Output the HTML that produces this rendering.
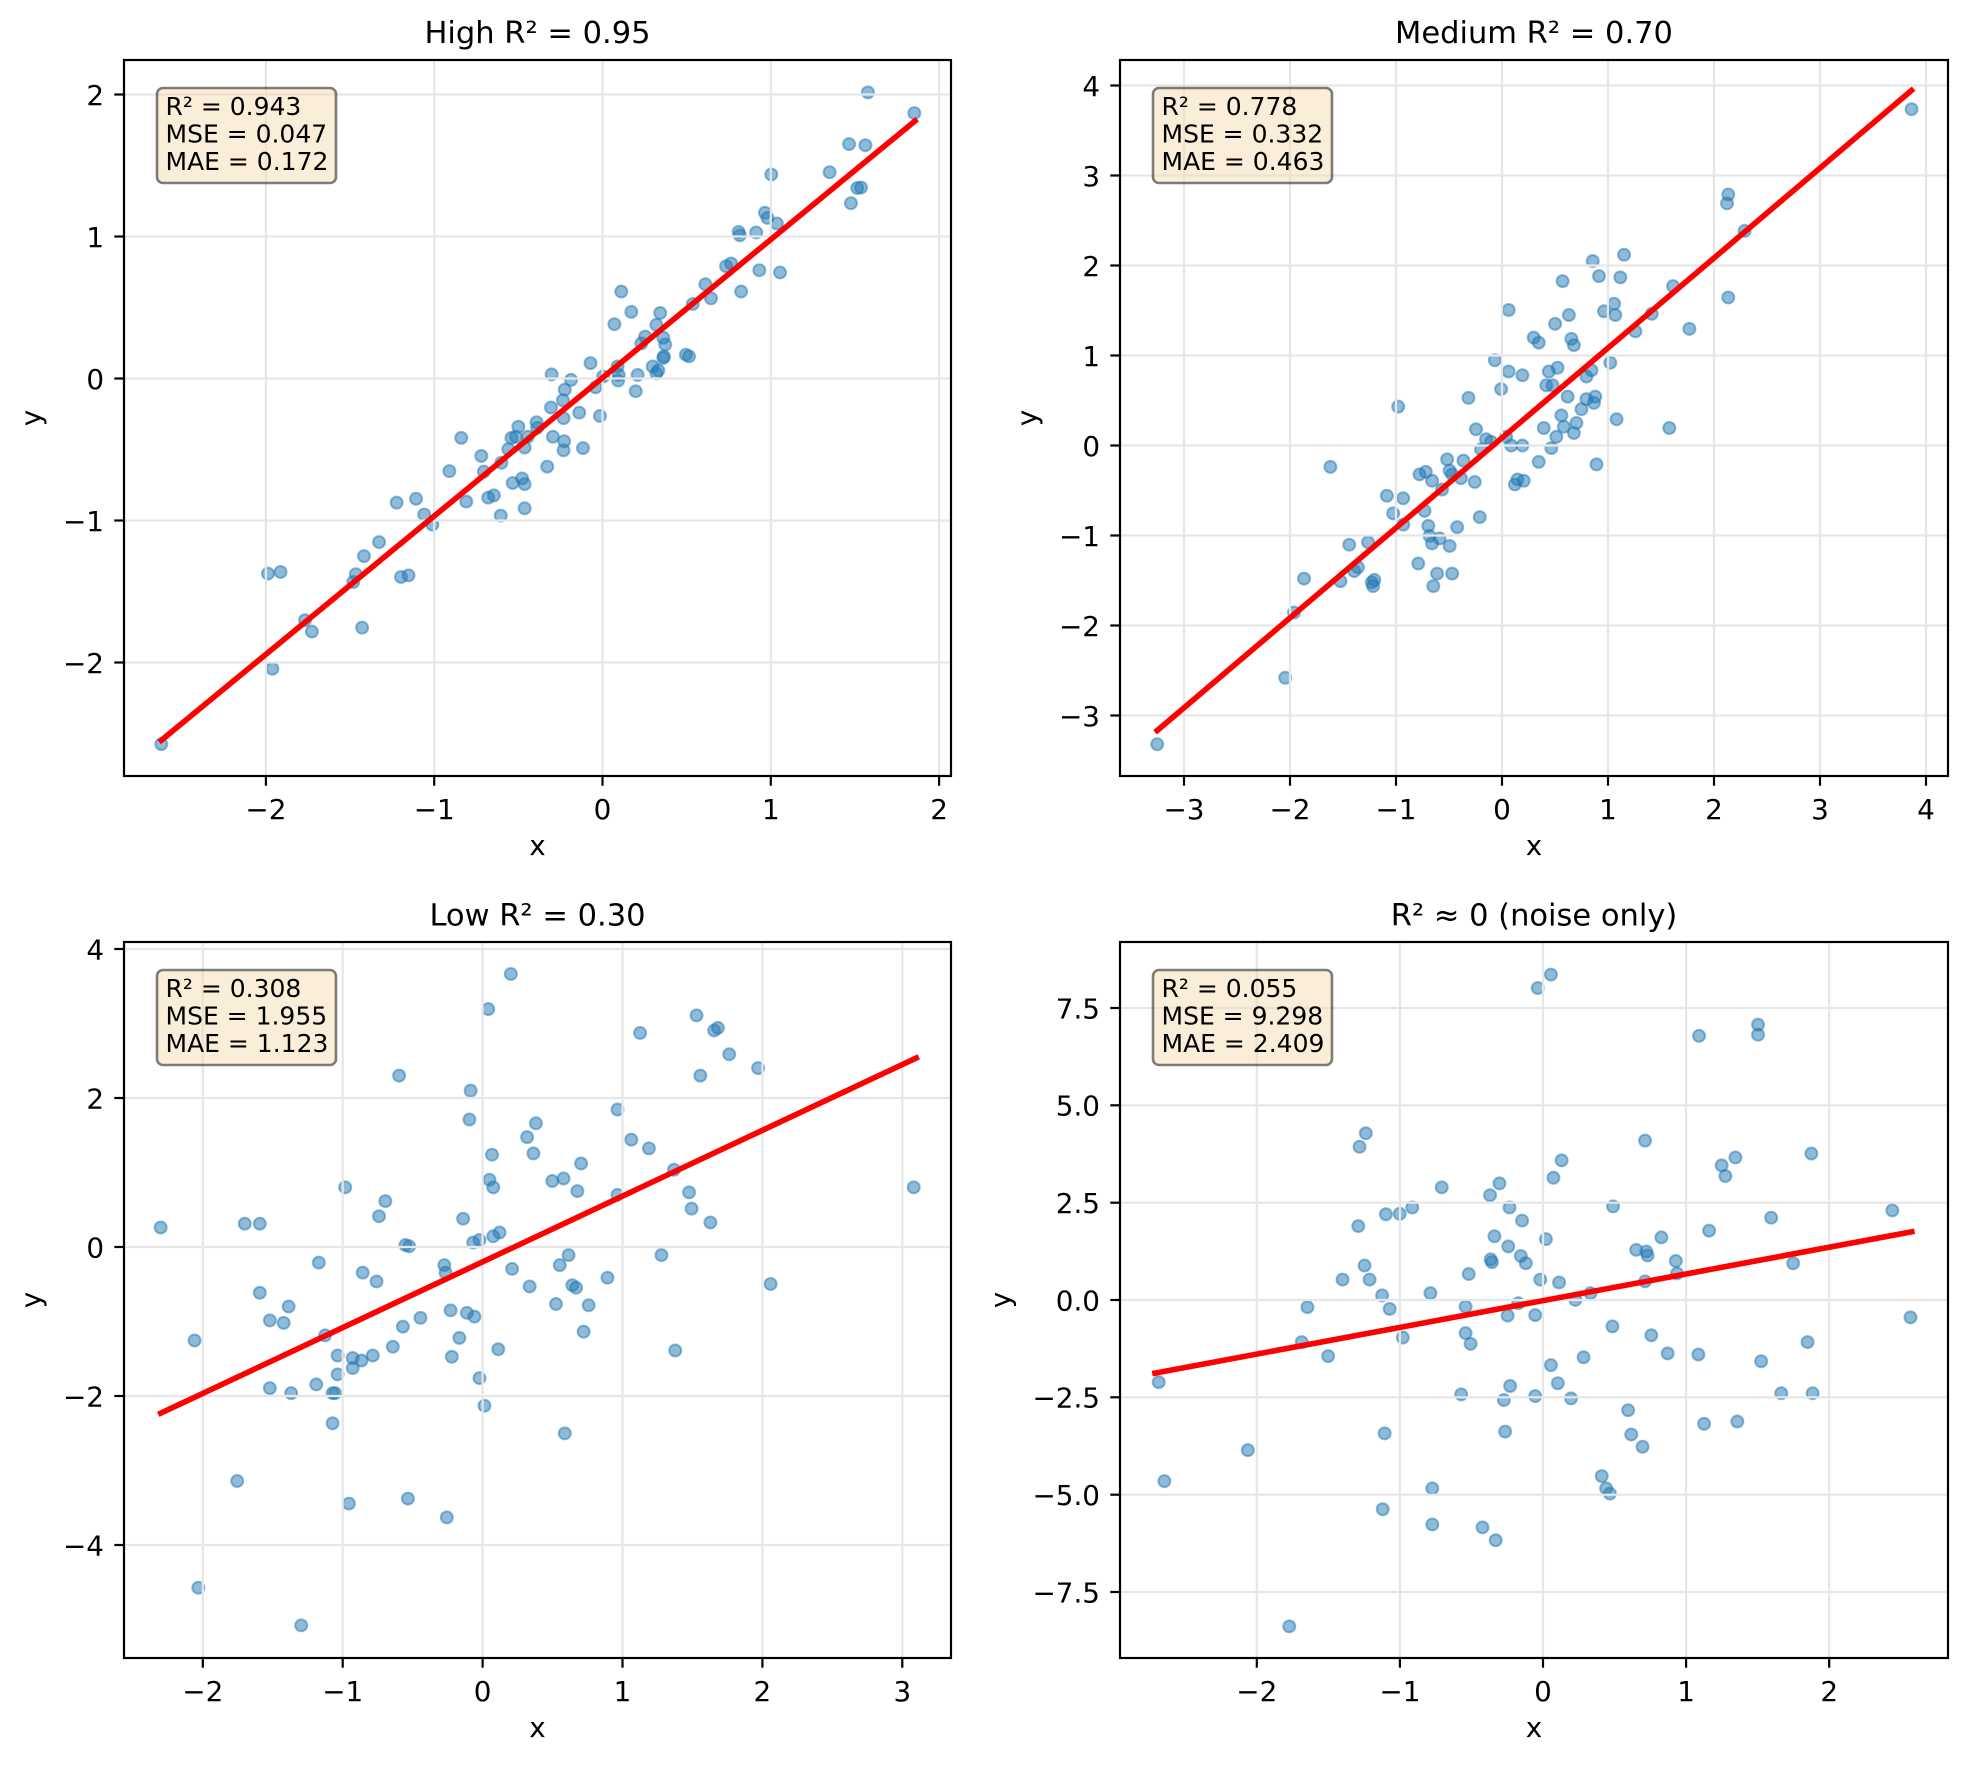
<!DOCTYPE html>
<html><head><meta charset="utf-8"><style>
html,body{margin:0;padding:0;background:#fff}
svg{display:block}
text{font-family:"DejaVu Sans","Liberation Sans",sans-serif;fill:#000}
.tk{font-size:27.8px}
.ti{font-size:30.5px}
.bx{font-size:25px}
.g{stroke:#e6e6e6;stroke-width:2.2}
.sp{fill:none;stroke:#000;stroke-width:2.2}
.t{stroke:#000;stroke-width:2.2}
.p circle{fill:#1f77b4;fill-opacity:.5;stroke:#1f77b4;stroke-opacity:.5;stroke-width:1.6}
.rl{stroke:#ff0000;stroke-width:5.6;stroke-linecap:square}
.box{fill:#f5deb3;fill-opacity:.5;stroke:#000;stroke-opacity:.5;stroke-width:2.6}
</style></head><body>
<svg width="1968" height="1766" viewBox="0 0 1968 1766" xmlns="http://www.w3.org/2000/svg">
<rect width="1968" height="1766" fill="#fff"/>

<!-- ============ PANEL 1 ============ -->
<g class="p" transform="scale(1.2551)">
<circle cx="128.5" cy="592.9" r="4.78"/><circle cx="213.5" cy="457.0" r="4.78"/><circle cx="223.5" cy="455.7" r="4.78"/><circle cx="217" cy="532.8" r="4.78"/><circle cx="243" cy="494.2" r="4.78"/><circle cx="248.5" cy="503.2" r="4.78"/><circle cx="281.5" cy="463.7" r="4.78"/><circle cx="283.5" cy="457.5" r="4.78"/><circle cx="290" cy="443.1" r="4.78"/><circle cx="288.5" cy="500.1" r="4.78"/><circle cx="302" cy="431.9" r="4.78"/><circle cx="316" cy="400.5" r="4.78"/><circle cx="319.5" cy="459.7" r="4.78"/><circle cx="325.5" cy="458.4" r="4.78"/><circle cx="331.5" cy="397.4" r="4.78"/><circle cx="338" cy="409.9" r="4.78"/><circle cx="344.5" cy="418.0" r="4.78"/><circle cx="358" cy="375.4" r="4.78"/><circle cx="367.5" cy="348.9" r="4.78"/><circle cx="371.5" cy="399.6" r="4.78"/><circle cx="383.5" cy="363.3" r="4.78"/><circle cx="385.5" cy="375.8" r="4.78"/><circle cx="389" cy="396.5" r="4.78"/><circle cx="393.5" cy="394.7" r="4.78"/><circle cx="399.5" cy="368.7" r="4.78"/><circle cx="399" cy="410.8" r="4.78"/><circle cx="405" cy="357.9" r="4.78"/><circle cx="407.5" cy="348.9" r="4.78"/><circle cx="411" cy="348.0" r="4.78"/><circle cx="413" cy="340.0" r="4.78"/><circle cx="408.5" cy="384.8" r="4.78"/><circle cx="416" cy="381.2" r="4.78"/><circle cx="418" cy="385.7" r="4.78"/><circle cx="418" cy="405.0" r="4.78"/><circle cx="418" cy="356.6" r="4.78"/><circle cx="420.5" cy="348.0" r="4.78"/><circle cx="427.5" cy="336.4" r="4.78"/><circle cx="428" cy="340.9" r="4.78"/><circle cx="436" cy="371.8" r="4.78"/><circle cx="439" cy="324.7" r="4.78"/><circle cx="439.5" cy="298.3" r="4.78"/><circle cx="440.5" cy="348.0" r="4.78"/><circle cx="449" cy="333.2" r="4.78"/><circle cx="450" cy="310.4" r="4.78"/><circle cx="448.5" cy="318.9" r="4.78"/><circle cx="449.5" cy="351.6" r="4.78"/><circle cx="449" cy="358.8" r="4.78"/><circle cx="455" cy="302.7" r="4.78"/><circle cx="461.5" cy="328.8" r="4.78"/><circle cx="464.5" cy="357.0" r="4.78"/><circle cx="470.5" cy="289.3" r="4.78"/><circle cx="474.5" cy="308.6" r="4.78"/><circle cx="478" cy="331.4" r="4.78"/><circle cx="480.5" cy="300.0" r="4.78"/><circle cx="489.5" cy="258.3" r="4.78"/><circle cx="492" cy="292.0" r="4.78"/><circle cx="493" cy="298.7" r="4.78"/><circle cx="492.5" cy="303.2" r="4.78"/><circle cx="495" cy="232.3" r="4.78"/><circle cx="503" cy="248.5" r="4.78"/><circle cx="506.5" cy="311.7" r="4.78"/><circle cx="508" cy="298.7" r="4.78"/><circle cx="511" cy="273.6" r="4.78"/><circle cx="514" cy="268.2" r="4.78"/><circle cx="520" cy="292.0" r="4.78"/><circle cx="523" cy="258.8" r="4.78"/><circle cx="523" cy="297.4" r="4.78"/><circle cx="524.5" cy="295.1" r="4.78"/><circle cx="526" cy="249.4" r="4.78"/><circle cx="528.5" cy="269.1" r="4.78"/><circle cx="528.5" cy="285.2" r="4.78"/><circle cx="530" cy="274.5" r="4.78"/><circle cx="529" cy="283.9" r="4.78"/><circle cx="546.5" cy="282.6" r="4.78"/><circle cx="549" cy="283.9" r="4.78"/><circle cx="552" cy="242.2" r="4.78"/><circle cx="562" cy="226.5" r="4.78"/><circle cx="566.5" cy="237.7" r="4.78"/><circle cx="578.5" cy="212.1" r="4.78"/><circle cx="582.5" cy="209.9" r="4.78"/><circle cx="588.5" cy="184.8" r="4.78"/><circle cx="589.5" cy="187.5" r="4.78"/><circle cx="590.5" cy="232.3" r="4.78"/><circle cx="602.5" cy="185.2" r="4.78"/><circle cx="605" cy="215.3" r="4.78"/><circle cx="609.5" cy="169.5" r="4.78"/><circle cx="611.5" cy="173.6" r="4.78"/><circle cx="614.5" cy="139.0" r="4.78"/><circle cx="619" cy="178.1" r="4.78"/><circle cx="621.5" cy="217.1" r="4.78"/><circle cx="661" cy="137.2" r="4.78"/><circle cx="676.5" cy="114.8" r="4.78"/><circle cx="678" cy="161.9" r="4.78"/><circle cx="683" cy="149.8" r="4.78"/><circle cx="686" cy="149.4" r="4.78"/><circle cx="689.5" cy="115.7" r="4.78"/><circle cx="691.5" cy="73.6" r="4.78"/><circle cx="728.5" cy="90.1" r="4.78"/>
</g>
<g class="g">
<line x1="265.9" y1="60" x2="265.9" y2="776"/><line x1="434.2" y1="60" x2="434.2" y2="776"/><line x1="602.5" y1="60" x2="602.5" y2="776"/><line x1="770.8" y1="60" x2="770.8" y2="776"/><line x1="939.1" y1="60" x2="939.1" y2="776"/>
<line x1="124" y1="662.5" x2="951" y2="662.5"/><line x1="124" y1="520.5" x2="951" y2="520.5"/><line x1="124" y1="378.5" x2="951" y2="378.5"/><line x1="124" y1="236.5" x2="951" y2="236.5"/><line x1="124" y1="94.5" x2="951" y2="94.5"/>
</g>
<line class="rl" x1="161.3" y1="740.3" x2="915.0" y2="121.0"/>
<rect class="sp" x="124" y="60" width="827" height="716"/>
<g class="t">
<line x1="265.9" y1="776" x2="265.9" y2="785.7"/><line x1="434.2" y1="776" x2="434.2" y2="785.7"/><line x1="602.5" y1="776" x2="602.5" y2="785.7"/><line x1="770.8" y1="776" x2="770.8" y2="785.7"/><line x1="939.1" y1="776" x2="939.1" y2="785.7"/>
<line x1="124" y1="662.5" x2="114.3" y2="662.5"/><line x1="124" y1="520.5" x2="114.3" y2="520.5"/><line x1="124" y1="378.5" x2="114.3" y2="378.5"/><line x1="124" y1="236.5" x2="114.3" y2="236.5"/><line x1="124" y1="94.5" x2="114.3" y2="94.5"/>
</g>
<g class="tk" text-anchor="middle">
<text x="265.9" y="819">−2</text><text x="434.2" y="819">−1</text><text x="602.5" y="819">0</text><text x="770.8" y="819">1</text><text x="939.1" y="819">2</text>
</g>
<g class="tk" text-anchor="end">
<text x="104" y="672.8">−2</text><text x="104" y="530.8">−1</text><text x="104" y="388.8">0</text><text x="104" y="246.8">1</text><text x="104" y="104.8">2</text>
</g>
<text class="ti" x="537.5" y="43" text-anchor="middle">High R² = 0.95</text>
<text class="tk" x="537.5" y="855" text-anchor="middle">x</text>
<text class="tk" transform="translate(40.5,418) rotate(-90)" text-anchor="middle">y</text>
<rect class="box" x="157" y="88" width="179" height="95" rx="6"/>
<g class="bx"><text x="165.5" y="115">R² = 0.943</text><text x="165.5" y="142.5">MSE = 0.047</text><text x="165.5" y="170">MAE = 0.172</text></g>

<!-- ============ PANEL 2 ============ -->
<g class="p" transform="scale(1.2551)">
<circle cx="922" cy="593" r="4.78"/><circle cx="1024" cy="540" r="4.78"/><circle cx="1031" cy="488" r="4.78"/><circle cx="1039" cy="461" r="4.78"/><circle cx="1060" cy="372" r="4.78"/><circle cx="1068" cy="463" r="4.78"/><circle cx="1075" cy="434" r="4.78"/><circle cx="1079" cy="455" r="4.78"/><circle cx="1082" cy="452" r="4.78"/><circle cx="1090" cy="432" r="4.78"/><circle cx="1093" cy="464" r="4.78"/><circle cx="1094" cy="467" r="4.78"/><circle cx="1095" cy="462" r="4.78"/><circle cx="1105" cy="395" r="4.78"/><circle cx="1110" cy="409" r="4.78"/><circle cx="1114" cy="324" r="4.78"/><circle cx="1118" cy="397" r="4.78"/><circle cx="1118" cy="418" r="4.78"/><circle cx="1130" cy="449" r="4.78"/><circle cx="1131" cy="378" r="4.78"/><circle cx="1135" cy="407" r="4.78"/><circle cx="1136" cy="376" r="4.78"/><circle cx="1138" cy="419" r="4.78"/><circle cx="1139" cy="427" r="4.78"/><circle cx="1141" cy="383" r="4.78"/><circle cx="1141" cy="433" r="4.78"/><circle cx="1142" cy="467" r="4.78"/><circle cx="1145" cy="457" r="4.78"/><circle cx="1147" cy="429" r="4.78"/><circle cx="1149" cy="390" r="4.78"/><circle cx="1153" cy="366" r="4.78"/><circle cx="1155" cy="375" r="4.78"/><circle cx="1155" cy="435" r="4.78"/><circle cx="1157" cy="378" r="4.78"/><circle cx="1157" cy="457" r="4.78"/><circle cx="1161" cy="420" r="4.78"/><circle cx="1164" cy="381" r="4.78"/><circle cx="1166" cy="367" r="4.78"/><circle cx="1170" cy="317" r="4.78"/><circle cx="1175" cy="384" r="4.78"/><circle cx="1176" cy="342" r="4.78"/><circle cx="1179" cy="412" r="4.78"/><circle cx="1180" cy="358" r="4.78"/><circle cx="1184" cy="350" r="4.78"/><circle cx="1188" cy="352" r="4.78"/><circle cx="1191" cy="287" r="4.78"/><circle cx="1196" cy="310" r="4.78"/><circle cx="1200" cy="348" r="4.78"/><circle cx="1202" cy="247" r="4.78"/><circle cx="1202" cy="296" r="4.78"/><circle cx="1204" cy="355" r="4.78"/><circle cx="1207" cy="386" r="4.78"/><circle cx="1209" cy="382" r="4.78"/><circle cx="1213" cy="355" r="4.78"/><circle cx="1213" cy="299" r="4.78"/><circle cx="1214" cy="383" r="4.78"/><circle cx="1222" cy="269" r="4.78"/><circle cx="1226" cy="368" r="4.78"/><circle cx="1226" cy="273" r="4.78"/><circle cx="1230" cy="341" r="4.78"/><circle cx="1232" cy="307" r="4.78"/><circle cx="1234" cy="296" r="4.78"/><circle cx="1236" cy="357" r="4.78"/><circle cx="1237" cy="307" r="4.78"/><circle cx="1239" cy="258" r="4.78"/><circle cx="1240" cy="348" r="4.78"/><circle cx="1241" cy="293" r="4.78"/><circle cx="1244" cy="331" r="4.78"/><circle cx="1245" cy="224" r="4.78"/><circle cx="1246" cy="340" r="4.78"/><circle cx="1249" cy="316" r="4.78"/><circle cx="1250" cy="251" r="4.78"/><circle cx="1252" cy="270" r="4.78"/><circle cx="1254" cy="275" r="4.78"/><circle cx="1254" cy="345" r="4.78"/><circle cx="1256" cy="337" r="4.78"/><circle cx="1260" cy="326" r="4.78"/><circle cx="1264" cy="300" r="4.78"/><circle cx="1264" cy="318" r="4.78"/><circle cx="1268" cy="295" r="4.78"/><circle cx="1269" cy="208" r="4.78"/><circle cx="1270" cy="321" r="4.78"/><circle cx="1271" cy="316" r="4.78"/><circle cx="1272" cy="370" r="4.78"/><circle cx="1274" cy="220" r="4.78"/><circle cx="1278" cy="248" r="4.78"/><circle cx="1283" cy="289" r="4.78"/><circle cx="1286" cy="242" r="4.78"/><circle cx="1287" cy="251" r="4.78"/><circle cx="1288" cy="334" r="4.78"/><circle cx="1291" cy="221" r="4.78"/><circle cx="1294" cy="203" r="4.78"/><circle cx="1303" cy="264" r="4.78"/><circle cx="1316" cy="250" r="4.78"/><circle cx="1333" cy="228" r="4.78"/><circle cx="1330" cy="341" r="4.78"/><circle cx="1346" cy="262" r="4.78"/><circle cx="1377" cy="237" r="4.78"/><circle cx="1377" cy="155" r="4.78"/><circle cx="1376" cy="162" r="4.78"/><circle cx="1390" cy="184" r="4.78"/><circle cx="1523" cy="87" r="4.78"/>
</g>
<g class="g">
<line x1="1184" y1="60" x2="1184" y2="776"/><line x1="1290" y1="60" x2="1290" y2="776"/><line x1="1396" y1="60" x2="1396" y2="776"/><line x1="1502" y1="60" x2="1502" y2="776"/><line x1="1608" y1="60" x2="1608" y2="776"/><line x1="1714" y1="60" x2="1714" y2="776"/><line x1="1820" y1="60" x2="1820" y2="776"/><line x1="1926" y1="60" x2="1926" y2="776"/>
<line x1="1120" y1="715.5" x2="1948" y2="715.5"/><line x1="1120" y1="625.5" x2="1948" y2="625.5"/><line x1="1120" y1="535.5" x2="1948" y2="535.5"/><line x1="1120" y1="445.5" x2="1948" y2="445.5"/><line x1="1120" y1="355.5" x2="1948" y2="355.5"/><line x1="1120" y1="265.5" x2="1948" y2="265.5"/><line x1="1120" y1="175.5" x2="1948" y2="175.5"/><line x1="1120" y1="85.5" x2="1948" y2="85.5"/>
</g>
<line class="rl" x1="1157.2" y1="730.5" x2="1911.5" y2="90.4"/>
<rect class="sp" x="1120" y="60" width="828" height="716"/>
<g class="t">
<line x1="1184" y1="776" x2="1184" y2="785.7"/><line x1="1290" y1="776" x2="1290" y2="785.7"/><line x1="1396" y1="776" x2="1396" y2="785.7"/><line x1="1502" y1="776" x2="1502" y2="785.7"/><line x1="1608" y1="776" x2="1608" y2="785.7"/><line x1="1714" y1="776" x2="1714" y2="785.7"/><line x1="1820" y1="776" x2="1820" y2="785.7"/><line x1="1926" y1="776" x2="1926" y2="785.7"/>
<line x1="1120" y1="715.5" x2="1110.3" y2="715.5"/><line x1="1120" y1="625.5" x2="1110.3" y2="625.5"/><line x1="1120" y1="535.5" x2="1110.3" y2="535.5"/><line x1="1120" y1="445.5" x2="1110.3" y2="445.5"/><line x1="1120" y1="355.5" x2="1110.3" y2="355.5"/><line x1="1120" y1="265.5" x2="1110.3" y2="265.5"/><line x1="1120" y1="175.5" x2="1110.3" y2="175.5"/><line x1="1120" y1="85.5" x2="1110.3" y2="85.5"/>
</g>
<g class="tk" text-anchor="middle">
<text x="1184" y="819">−3</text><text x="1290" y="819">−2</text><text x="1396" y="819">−1</text><text x="1502" y="819">0</text><text x="1608" y="819">1</text><text x="1714" y="819">2</text><text x="1820" y="819">3</text><text x="1926" y="819">4</text>
</g>
<g class="tk" text-anchor="end">
<text x="1100" y="725.8">−3</text><text x="1100" y="635.8">−2</text><text x="1100" y="545.8">−1</text><text x="1100" y="455.8">0</text><text x="1100" y="365.8">1</text><text x="1100" y="275.8">2</text><text x="1100" y="185.8">3</text><text x="1100" y="95.8">4</text>
</g>
<text class="ti" x="1534" y="43" text-anchor="middle">Medium R² = 0.70</text>
<text class="tk" x="1534" y="855" text-anchor="middle">x</text>
<text class="tk" transform="translate(1036.5,418) rotate(-90)" text-anchor="middle">y</text>
<rect class="box" x="1153" y="88" width="179" height="95" rx="6"/>
<g class="bx"><text x="1161.5" y="115">R² = 0.778</text><text x="1161.5" y="142.5">MSE = 0.332</text><text x="1161.5" y="170">MAE = 0.463</text></g>

<!-- ============ PANEL 3 ============ -->
<g class="p" transform="scale(1.2551)">
<circle cx="128" cy="978" r="4.78"/><circle cx="155" cy="1068" r="4.78"/><circle cx="158" cy="1265" r="4.78"/><circle cx="189" cy="1180" r="4.78"/><circle cx="195" cy="975" r="4.78"/><circle cx="207" cy="975" r="4.78"/><circle cx="207" cy="1030" r="4.78"/><circle cx="215" cy="1052" r="4.78"/><circle cx="215" cy="1106" r="4.78"/><circle cx="226" cy="1054" r="4.78"/><circle cx="230" cy="1041" r="4.78"/><circle cx="232" cy="1110" r="4.78"/><circle cx="240" cy="1295" r="4.78"/><circle cx="252" cy="1103" r="4.78"/><circle cx="254" cy="1006" r="4.78"/><circle cx="259" cy="1064" r="4.78"/><circle cx="265" cy="1110" r="4.78"/><circle cx="265" cy="1134" r="4.78"/><circle cx="267" cy="1110" r="4.78"/><circle cx="269" cy="1080" r="4.78"/><circle cx="269" cy="1095" r="4.78"/><circle cx="275" cy="946" r="4.78"/><circle cx="278" cy="1198" r="4.78"/><circle cx="281" cy="1082" r="4.78"/><circle cx="281" cy="1090" r="4.78"/><circle cx="288" cy="1084" r="4.78"/><circle cx="289" cy="1014" r="4.78"/><circle cx="297" cy="1080" r="4.78"/><circle cx="300" cy="1021" r="4.78"/><circle cx="302" cy="969" r="4.78"/><circle cx="307" cy="957" r="4.78"/><circle cx="313" cy="1073" r="4.78"/><circle cx="318" cy="857" r="4.78"/><circle cx="321" cy="1057" r="4.78"/><circle cx="323" cy="992" r="4.78"/><circle cx="325" cy="1194" r="4.78"/><circle cx="326" cy="993" r="4.78"/><circle cx="335" cy="1050" r="4.78"/><circle cx="354" cy="1008" r="4.78"/><circle cx="355" cy="1014" r="4.78"/><circle cx="356" cy="1209" r="4.78"/><circle cx="359" cy="1044" r="4.78"/><circle cx="360" cy="1081" r="4.78"/><circle cx="366" cy="1066" r="4.78"/><circle cx="369" cy="971" r="4.78"/><circle cx="372" cy="1046" r="4.78"/><circle cx="374" cy="892" r="4.78"/><circle cx="375" cy="869" r="4.78"/><circle cx="377" cy="990" r="4.78"/><circle cx="378" cy="1049" r="4.78"/><circle cx="382" cy="988" r="4.78"/><circle cx="382" cy="1098" r="4.78"/><circle cx="386" cy="1120" r="4.78"/><circle cx="389" cy="804" r="4.78"/><circle cx="390" cy="940" r="4.78"/><circle cx="392" cy="920" r="4.78"/><circle cx="393" cy="946" r="4.78"/><circle cx="393" cy="985" r="4.78"/><circle cx="398" cy="982" r="4.78"/><circle cx="397" cy="1075" r="4.78"/><circle cx="407" cy="776" r="4.78"/><circle cx="408" cy="1011" r="4.78"/><circle cx="420" cy="906" r="4.78"/><circle cx="422" cy="1025" r="4.78"/><circle cx="425" cy="919" r="4.78"/><circle cx="427" cy="895" r="4.78"/><circle cx="440" cy="941" r="4.78"/><circle cx="443" cy="1039" r="4.78"/><circle cx="446" cy="1008" r="4.78"/><circle cx="449" cy="939" r="4.78"/><circle cx="450" cy="1142" r="4.78"/><circle cx="453" cy="1000" r="4.78"/><circle cx="456" cy="1024" r="4.78"/><circle cx="460" cy="949" r="4.78"/><circle cx="459" cy="1026" r="4.78"/><circle cx="463" cy="927" r="4.78"/><circle cx="465" cy="1061" r="4.78"/><circle cx="469" cy="1040" r="4.78"/><circle cx="484" cy="1018" r="4.78"/><circle cx="492" cy="884" r="4.78"/><circle cx="492" cy="952" r="4.78"/><circle cx="503" cy="908" r="4.78"/><circle cx="510" cy="823" r="4.78"/><circle cx="517" cy="915" r="4.78"/><circle cx="527" cy="1000" r="4.78"/><circle cx="537" cy="932" r="4.78"/><circle cx="538" cy="1076" r="4.78"/><circle cx="549" cy="950" r="4.78"/><circle cx="551" cy="963" r="4.78"/><circle cx="555" cy="809" r="4.78"/><circle cx="558" cy="857" r="4.78"/><circle cx="566" cy="974" r="4.78"/><circle cx="569" cy="821" r="4.78"/><circle cx="572" cy="819" r="4.78"/><circle cx="581" cy="840" r="4.78"/><circle cx="604" cy="851" r="4.78"/><circle cx="614" cy="1023" r="4.78"/><circle cx="728" cy="946" r="4.78"/>
</g>
<g class="g">
<line x1="202.8" y1="942" x2="202.8" y2="1658"/><line x1="342.7" y1="942" x2="342.7" y2="1658"/><line x1="482.6" y1="942" x2="482.6" y2="1658"/><line x1="622.5" y1="942" x2="622.5" y2="1658"/><line x1="762.4" y1="942" x2="762.4" y2="1658"/><line x1="902.3" y1="942" x2="902.3" y2="1658"/>
<line x1="124" y1="1545" x2="951" y2="1545"/><line x1="124" y1="1396" x2="951" y2="1396"/><line x1="124" y1="1247" x2="951" y2="1247"/><line x1="124" y1="1098" x2="951" y2="1098"/><line x1="124" y1="949" x2="951" y2="949"/>
</g>
<line class="rl" x1="160.7" y1="1413.2" x2="916.2" y2="1058.0"/>
<rect class="sp" x="124" y="942" width="827" height="716"/>
<g class="t">
<line x1="202.8" y1="1658" x2="202.8" y2="1667.7"/><line x1="342.7" y1="1658" x2="342.7" y2="1667.7"/><line x1="482.6" y1="1658" x2="482.6" y2="1667.7"/><line x1="622.5" y1="1658" x2="622.5" y2="1667.7"/><line x1="762.4" y1="1658" x2="762.4" y2="1667.7"/><line x1="902.3" y1="1658" x2="902.3" y2="1667.7"/>
<line x1="124" y1="1545" x2="114.3" y2="1545"/><line x1="124" y1="1396" x2="114.3" y2="1396"/><line x1="124" y1="1247" x2="114.3" y2="1247"/><line x1="124" y1="1098" x2="114.3" y2="1098"/><line x1="124" y1="949" x2="114.3" y2="949"/>
</g>
<g class="tk" text-anchor="middle">
<text x="202.8" y="1701">−2</text><text x="342.7" y="1701">−1</text><text x="482.6" y="1701">0</text><text x="622.5" y="1701">1</text><text x="762.4" y="1701">2</text><text x="902.3" y="1701">3</text>
</g>
<g class="tk" text-anchor="end">
<text x="104" y="1555.3">−4</text><text x="104" y="1406.3">−2</text><text x="104" y="1257.3">0</text><text x="104" y="1108.3">2</text><text x="104" y="959.3">4</text>
</g>
<text class="ti" x="537.5" y="925.5" text-anchor="middle">Low R² = 0.30</text>
<text class="tk" x="537.5" y="1737" text-anchor="middle">x</text>
<text class="tk" transform="translate(40.5,1300) rotate(-90)" text-anchor="middle">y</text>
<rect class="box" x="157" y="970" width="179" height="95" rx="6"/>
<g class="bx"><text x="165.5" y="997">R² = 0.308</text><text x="165.5" y="1024.5">MSE = 1.955</text><text x="165.5" y="1052">MAE = 1.123</text></g>

<!-- ============ PANEL 4 ============ -->
<g class="p" transform="scale(1.2551)">
<circle cx="923.2" cy="1101.2" r="4.78"/><circle cx="927.7" cy="1180.1" r="4.78"/><circle cx="994.2" cy="1155.4" r="4.78"/><circle cx="1027.2" cy="1295.8" r="4.78"/><circle cx="1037.2" cy="1069.3" r="4.78"/><circle cx="1041.7" cy="1041.5" r="4.78"/><circle cx="1058.2" cy="1080.5" r="4.78"/><circle cx="1069.7" cy="1019.5" r="4.78"/><circle cx="1082.2" cy="976.9" r="4.78"/><circle cx="1083.2" cy="913.7" r="4.78"/><circle cx="1087.2" cy="1008.3" r="4.78"/><circle cx="1088.2" cy="902.9" r="4.78"/><circle cx="1091.2" cy="1019.5" r="4.78"/><circle cx="1101.2" cy="1032.1" r="4.78"/><circle cx="1101.7" cy="1202.5" r="4.78"/><circle cx="1103.2" cy="1142.0" r="4.78"/><circle cx="1104.2" cy="967.5" r="4.78"/><circle cx="1107.2" cy="1042.9" r="4.78"/><circle cx="1115.2" cy="967.1" r="4.78"/><circle cx="1117.7" cy="1065.7" r="4.78"/><circle cx="1125.2" cy="962.1" r="4.78"/><circle cx="1139.7" cy="1030.3" r="4.78"/><circle cx="1141.2" cy="1185.9" r="4.78"/><circle cx="1141.2" cy="1214.6" r="4.78"/><circle cx="1148.7" cy="946.0" r="4.78"/><circle cx="1164.2" cy="1111.0" r="4.78"/><circle cx="1167.7" cy="1062.2" r="4.78"/><circle cx="1167.7" cy="1041.1" r="4.78"/><circle cx="1170.2" cy="1015.1" r="4.78"/><circle cx="1171.7" cy="1070.7" r="4.78"/><circle cx="1181.2" cy="1216.9" r="4.78"/><circle cx="1187.2" cy="952.3" r="4.78"/><circle cx="1187.7" cy="1003.4" r="4.78"/><circle cx="1188.7" cy="1005.6" r="4.78"/><circle cx="1190.7" cy="985.0" r="4.78"/><circle cx="1191.7" cy="1227.2" r="4.78"/><circle cx="1194.7" cy="942.9" r="4.78"/><circle cx="1198.2" cy="1115.5" r="4.78"/><circle cx="1199.2" cy="1140.6" r="4.78"/><circle cx="1201.2" cy="1048.2" r="4.78"/><circle cx="1201.7" cy="993.1" r="4.78"/><circle cx="1202.7" cy="962.1" r="4.78"/><circle cx="1203.2" cy="1104.3" r="4.78"/><circle cx="1209.7" cy="1038.4" r="4.78"/><circle cx="1211.7" cy="1000.7" r="4.78"/><circle cx="1212.7" cy="972.5" r="4.78"/><circle cx="1215.7" cy="1006.5" r="4.78"/><circle cx="1223.2" cy="1047.8" r="4.78"/><circle cx="1223.2" cy="1112.4" r="4.78"/><circle cx="1225.2" cy="787.2" r="4.78"/><circle cx="1227.2" cy="1019.5" r="4.78"/><circle cx="1231.7" cy="987.3" r="4.78"/><circle cx="1235.7" cy="776.5" r="4.78"/><circle cx="1235.7" cy="1087.7" r="4.78"/><circle cx="1237.7" cy="938.4" r="4.78"/><circle cx="1241.2" cy="1102.1" r="4.78"/><circle cx="1242.2" cy="1021.8" r="4.78"/><circle cx="1244.2" cy="924.5" r="4.78"/><circle cx="1251.7" cy="1114.2" r="4.78"/><circle cx="1255.2" cy="1035.7" r="4.78"/><circle cx="1261.7" cy="1081.4" r="4.78"/><circle cx="1267.2" cy="1030.3" r="4.78"/><circle cx="1276.2" cy="1176.1" r="4.78"/><circle cx="1279.7" cy="1185.9" r="4.78"/><circle cx="1282.7" cy="1190.0" r="4.78"/><circle cx="1284.7" cy="1056.8" r="4.78"/><circle cx="1285.2" cy="961.2" r="4.78"/><circle cx="1297.2" cy="1123.6" r="4.78"/><circle cx="1299.7" cy="1142.9" r="4.78"/><circle cx="1303.7" cy="995.8" r="4.78"/><circle cx="1308.7" cy="1152.7" r="4.78"/><circle cx="1310.7" cy="1020.9" r="4.78"/><circle cx="1310.7" cy="908.8" r="4.78"/><circle cx="1311.7" cy="997.1" r="4.78"/><circle cx="1312.7" cy="1000.3" r="4.78"/><circle cx="1315.7" cy="1063.9" r="4.78"/><circle cx="1323.7" cy="985.9" r="4.78"/><circle cx="1328.7" cy="1078.3" r="4.78"/><circle cx="1335.2" cy="1004.7" r="4.78"/><circle cx="1336.2" cy="1014.6" r="4.78"/><circle cx="1353.2" cy="1079.2" r="4.78"/><circle cx="1353.7" cy="825.3" r="4.78"/><circle cx="1357.7" cy="1134.4" r="4.78"/><circle cx="1361.7" cy="980.5" r="4.78"/><circle cx="1371.7" cy="928.5" r="4.78"/><circle cx="1374.7" cy="937.0" r="4.78"/><circle cx="1382.7" cy="922.2" r="4.78"/><circle cx="1384.2" cy="1132.6" r="4.78"/><circle cx="1400.7" cy="824.4" r="4.78"/><circle cx="1400.7" cy="816.4" r="4.78"/><circle cx="1403.2" cy="1084.6" r="4.78"/><circle cx="1411.2" cy="970.2" r="4.78"/><circle cx="1419.2" cy="1110.1" r="4.78"/><circle cx="1428.7" cy="1006.5" r="4.78"/><circle cx="1440.2" cy="1069.3" r="4.78"/><circle cx="1443.2" cy="919.1" r="4.78"/><circle cx="1444.2" cy="1110.1" r="4.78"/><circle cx="1507.7" cy="964.4" r="4.78"/><circle cx="1522.2" cy="1049.6" r="4.78"/>
</g>
<g class="g">
<line x1="1256.8" y1="942" x2="1256.8" y2="1658"/><line x1="1399.9" y1="942" x2="1399.9" y2="1658"/><line x1="1543" y1="942" x2="1543" y2="1658"/><line x1="1686.1" y1="942" x2="1686.1" y2="1658"/><line x1="1829.2" y1="942" x2="1829.2" y2="1658"/>
<line x1="1120" y1="1008" x2="1948" y2="1008"/><line x1="1120" y1="1105.3" x2="1948" y2="1105.3"/><line x1="1120" y1="1202.7" x2="1948" y2="1202.7"/><line x1="1120" y1="1300" x2="1948" y2="1300"/><line x1="1120" y1="1397.3" x2="1948" y2="1397.3"/><line x1="1120" y1="1494.7" x2="1948" y2="1494.7"/><line x1="1120" y1="1592" x2="1948" y2="1592"/>
</g>
<line class="rl" x1="1155" y1="1373.1" x2="1911.8" y2="1231.8"/>
<rect class="sp" x="1120" y="942" width="828" height="716"/>
<g class="t">
<line x1="1256.8" y1="1658" x2="1256.8" y2="1667.7"/><line x1="1399.9" y1="1658" x2="1399.9" y2="1667.7"/><line x1="1543" y1="1658" x2="1543" y2="1667.7"/><line x1="1686.1" y1="1658" x2="1686.1" y2="1667.7"/><line x1="1829.2" y1="1658" x2="1829.2" y2="1667.7"/>
<line x1="1120" y1="1008" x2="1110.3" y2="1008"/><line x1="1120" y1="1105.3" x2="1110.3" y2="1105.3"/><line x1="1120" y1="1202.7" x2="1110.3" y2="1202.7"/><line x1="1120" y1="1300" x2="1110.3" y2="1300"/><line x1="1120" y1="1397.3" x2="1110.3" y2="1397.3"/><line x1="1120" y1="1494.7" x2="1110.3" y2="1494.7"/><line x1="1120" y1="1592" x2="1110.3" y2="1592"/>
</g>
<g class="tk" text-anchor="middle">
<text x="1256.8" y="1701">−2</text><text x="1399.9" y="1701">−1</text><text x="1543" y="1701">0</text><text x="1686.1" y="1701">1</text><text x="1829.2" y="1701">2</text>
</g>
<g class="tk" text-anchor="end">
<text x="1100" y="1018.3">7.5</text><text x="1100" y="1115.6">5.0</text><text x="1100" y="1213">2.5</text><text x="1100" y="1310.3">0.0</text><text x="1100" y="1407.6">−2.5</text><text x="1100" y="1505">−5.0</text><text x="1100" y="1602.3">−7.5</text>
</g>
<text class="ti" x="1534" y="925.5" text-anchor="middle">R² ≈ 0 (noise only)</text>
<text class="tk" x="1534" y="1737" text-anchor="middle">x</text>
<text class="tk" transform="translate(1010,1300) rotate(-90)" text-anchor="middle">y</text>
<rect class="box" x="1153" y="970" width="179" height="95" rx="6"/>
<g class="bx"><text x="1161.5" y="997">R² = 0.055</text><text x="1161.5" y="1024.5">MSE = 9.298</text><text x="1161.5" y="1052">MAE = 2.409</text></g>
</svg>
</body></html>
